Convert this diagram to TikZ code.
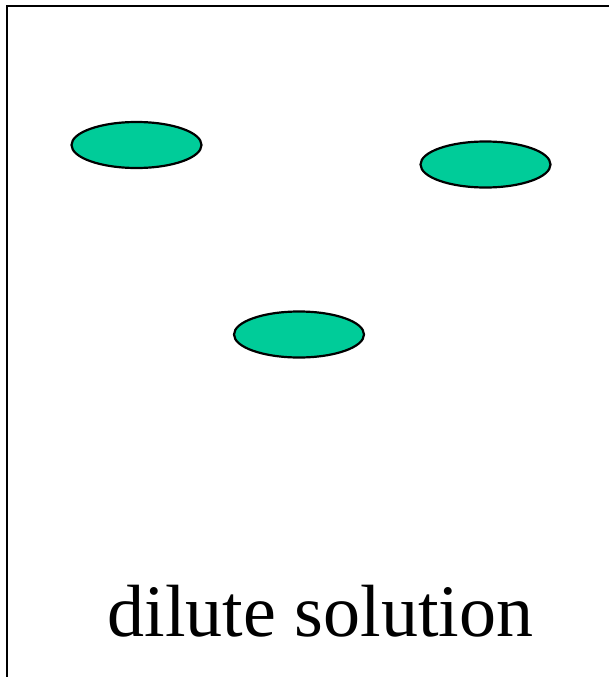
\documentclass[tikz,border=0pt]{standalone}
\usepackage{fontspec}
\usetikzlibrary{shapes.geometric}
\setmainfont{Liberation Serif}
\definecolor{blobgreen}{HTML}{00CC99}
\begin{document}
\begin{tikzpicture}[x=1pt,y=1pt,
  blob/.style={ellipse, draw=black, line width=2.2pt, fill=blobgreen, minimum width=130pt, minimum height=46pt, inner sep=0pt},
  frame/.style={draw=black, line width=2.4pt}]
\useasboundingbox (0,0) rectangle (609,-677);
\begin{scope}
\clip (0,0) rectangle (609,-677);
\draw[frame] (7,-6) rectangle (640,-700);
\end{scope}
\node[blob] (b1) at (136.5,-145) {};
\node[blob] (b2) at (485.5,-164.5) {};
\node[blob] (b3) at (299,-334.5) {};
\node[anchor=base, inner sep=0pt, font=\fontsize{74}{80}\selectfont] (lbl) at (320.5,-636) {dilute solution};
\end{tikzpicture}
\end{document}
